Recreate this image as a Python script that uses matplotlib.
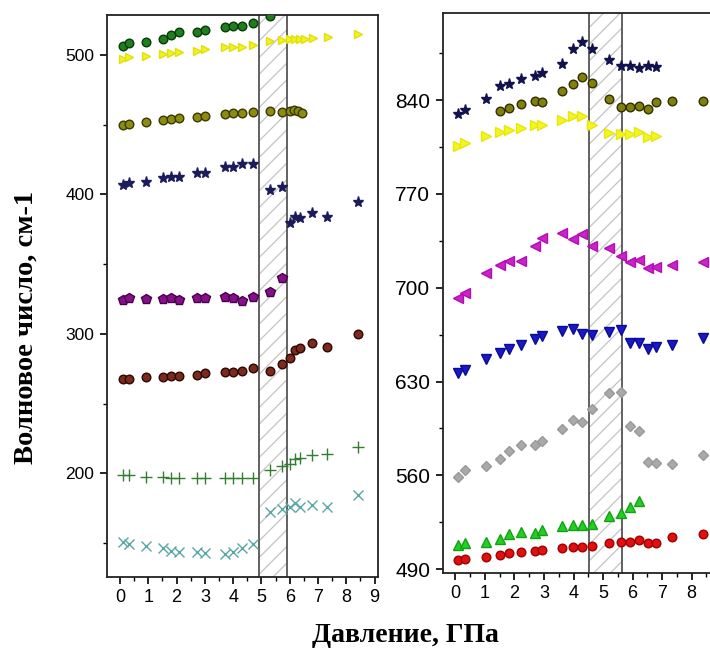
import matplotlib
matplotlib.use("Agg")
import matplotlib.pyplot as plt
from matplotlib.ticker import MultipleLocator

# Pressure points, GPa
p_left = [0.1, 0.33, 0.92, 1.51, 1.8, 2.1, 2.71, 3.0, 3.71, 4.0, 4.3, 4.71,
          5.3, 5.71, 6.0, 6.18, 6.36, 6.77, 7.3, 8.42]
p_left_yellow = [0.1, 0.33, 0.92, 1.51, 1.8, 2.1, 2.71, 3.0, 3.71, 4.0, 4.3, 4.71,
                 5.3, 5.71, 6.0, 6.18, 6.36, 6.54, 6.83, 7.36, 8.42]
p_left_olive = [0.1, 0.33, 0.92, 1.51, 1.8, 2.1, 2.71, 3.0, 3.71, 4.0, 4.3, 4.71,
                5.3, 5.71, 6.0, 6.15, 6.3, 6.45]
p_right = [0.09, 0.32, 1.03, 1.5, 1.82, 2.21, 2.69, 2.92, 3.61, 3.99, 4.29, 4.61,
           5.21, 5.6, 5.91, 6.21, 6.51, 6.81, 7.32, 8.39]

# Low-frequency modes, cm-1
w_green = [506.5, 508.4, 509.1, 511.3, 514.3, 516.3, 516.3, 518.0, 520.3, 521.0,
           521.0, 522.7, 528.2]
w_yellow = [496.9, 498.3, 499.3, 500.7, 501.7, 502.4, 503.1, 504.1, 505.5, 505.5,
            506.0, 507.2, 510.3, 510.8, 511.3, 511.3, 511.3, 511.3, 512.0, 513.1, 515.1]
w_olive = [449.8, 450.5, 451.7, 453.4, 454.1, 454.6, 455.7, 456.5, 457.7, 458.2,
           458.2, 459.3, 459.8, 459.3, 459.5, 460.5, 460.0, 458.5]
w_star = [406.7, 408.4, 409.1, 412.0, 412.7, 412.7, 415.1, 415.1, 419.4, 419.9,
          421.8, 421.8, 403.2, 405.1, 379.3, 384.0, 382.9, 386.9, 384.0, 394.3]
w_purple = [324.2, 325.4, 324.9, 324.9, 325.4, 324.2, 325.4, 325.4, 326.2, 325.4,
            323.7, 326.6, 330.2, 340.2]
w_brown = [267.4, 267.4, 268.8, 269.3, 269.8, 269.8, 270.5, 271.7, 272.4, 272.8,
           273.3, 275.6, 273.3, 278.1, 282.4, 288.4, 290.0, 293.6, 290.8, 299.6]
w_plus = [198.8, 198.8, 197.6, 197.6, 196.9, 196.9, 196.4, 196.4, 196.9, 196.9,
          196.4, 196.9, 202.6, 205.2, 206.9, 210.5, 211.2, 212.8, 213.6, 218.8]
w_cross = [150.9, 149.2, 148.0, 146.1, 144.4, 143.7, 143.2, 142.5, 142.0, 143.2,
           146.1, 149.2, 172.5, 174.2, 176.1, 178.5, 176.1, 177.3, 176.1, 184.5]

# High-frequency modes, cm-1
v_star = [829.2, 832.9, 840.4, 850.8, 852.3, 855.3, 857.7, 859.8, 867.2, 877.7,
          883.1, 877.7, 870.2, 865.7, 865.2, 864.0, 865.2, 864.5]
v_olive = [831.7, 833.7, 837.2, 839.1, 838.7, 846.6, 851.6, 857.3, 852.8, 840.9,
           834.9, 834.6, 835.9, 833.4, 838.4, 839.6, 839.6]
v_yellow = [805.6, 807.6, 813.5, 816.0, 817.5, 819.3, 821.0, 821.7, 824.9, 828.4,
            828.4, 821.7, 815.5, 814.3, 814.3, 816.0, 812.3, 813.5]
v_magenta = [692.5, 696.2, 711.1, 716.6, 719.8, 719.8, 731.0, 737.2, 741.0, 736.5,
             739.7, 731.0, 729.3, 724.0, 719.0, 721.0, 714.9, 715.6, 716.8, 719.3]
v_blue = [636.6, 638.5, 647.0, 651.5, 654.5, 657.0, 662.0, 663.9, 667.6, 669.4,
          665.7, 664.4, 666.9, 668.1, 658.4, 658.4, 654.0, 656.0, 657.0, 662.7]
v_gray = [559.0, 564.0, 566.9, 571.9, 578.1, 582.6, 582.6, 585.6, 594.8, 601.2,
          599.7, 609.7, 621.1, 622.4, 596.7, 593.0, 569.9, 569.4, 568.7, 574.9]
v_green = [507.8, 509.8, 510.3, 512.8, 516.0, 517.7, 517.3, 519.2, 522.2, 522.9,
           522.9, 523.4, 529.6, 531.6, 536.6, 540.8]
v_red = [496.8, 497.9, 499.4, 500.6, 501.8, 502.8, 503.5, 504.3, 506.0, 506.8,
         506.5, 507.2, 509.8, 510.2, 510.5, 511.5, 509.8, 509.3, 514.3, 516.0]

# Transition regions, GPa
band_left = (4.9, 5.9)
band_right = (4.52, 5.63)

tick_font = "Liberation Sans"
label_font = "Liberation Serif"

plt.rcParams["hatch.linewidth"] = 0.9

fig = plt.figure(figsize=(7.1, 6.5), dpi=100)
ax1 = fig.add_axes([107 / 710, 1 - 577 / 650, (378.3 - 107) / 710, (577 - 15) / 650])
ax2 = fig.add_axes([442.7 / 710, 1 - 573 / 650, (730 - 442.7) / 710, (573 - 13) / 650])


def band(ax, lo, hi):
    ax.axvspan(lo, hi, facecolor="white", edgecolor="#c4c4c4", hatch="//",
               linewidth=0, zorder=1)
    for x in (lo, hi):
        ax.axvline(x, color="#555555", linewidth=1.3, zorder=2)


def dots(ax, x, y, marker, face, edge=None, size=6.2, **kw):
    ax.plot(x, y, linestyle="none", marker=marker, markersize=size,
            markerfacecolor=face, markeredgecolor=edge or face,
            markeredgewidth=1.0, zorder=3, **kw)


# left panel
band(ax1, *band_left)
dots(ax1, p_left[:len(w_green)], w_green, "o", "#1f7f1f", "#0a3a0a")
dots(ax1, p_left_yellow, w_yellow, ">", "#f2f21c", "#e0e010")
dots(ax1, p_left_olive, w_olive, "o", "#8c8c12", "#3a3a00")
dots(ax1, p_left, w_star, "*", "#1c1c5c", size=8)
dots(ax1, p_left[:len(w_purple)], w_purple, "p", "#84108a", "#4a004a", size=7)
dots(ax1, p_left, w_brown, "o", "#7a2a1e", "#2e0800")
dots(ax1, p_left, w_plus, "+", "#2f7f2f", size=8)
dots(ax1, p_left, w_cross, "x", "#5aa6a6", size=7.5)

ax1.set_xlim(-0.46, 9.13)
ax1.set_ylim(125.6, 528.7)
ax1.xaxis.set_major_locator(MultipleLocator(1))
ax1.xaxis.set_minor_locator(MultipleLocator(0.5))
ax1.yaxis.set_major_locator(MultipleLocator(100))
ax1.yaxis.set_minor_locator(MultipleLocator(50))
for lab in ax1.get_xticklabels() + ax1.get_yticklabels():
    lab.set_fontfamily(tick_font)
ax1.tick_params(axis="y", labelsize=12.5)
ax1.tick_params(axis="x", labelsize=13)

# right panel
band(ax2, *band_right)
dots(ax2, p_right[:len(v_star)], v_star, "*", "#12124e", size=8)
dots(ax2, p_right[3:3 + len(v_olive)], v_olive, "o", "#80800e", "#303000")
dots(ax2, p_right[:len(v_yellow)], v_yellow, ">", "#f5f51e", "#e6e612", size=6.8)
dots(ax2, p_right, v_magenta, "<", "#cc22cc", "#b010b0", size=6.8)
dots(ax2, p_right, v_blue, "v", "#1818c8", "#0c0c90", size=6.8)
dots(ax2, p_right, v_gray, "D", "#a9a9a9", "#999999", size=5.2)
dots(ax2, p_right[:len(v_green)], v_green, "^", "#22d022", "#14a014", size=6.8)
dots(ax2, p_right, v_red, "o", "#e01010", "#a00000")

ax2.set_xlim(-0.43, 9.3)
ax2.set_ylim(487.2, 904.9)
ax2.xaxis.set_minor_locator(MultipleLocator(0.5))
ax2.set_xticks(range(0, 9))
ax2.set_yticks([490, 560, 630, 700, 770, 840])
ax2.set_yticks([525, 595, 665, 735, 805, 875], minor=True)
for lab in ax2.get_xticklabels() + ax2.get_yticklabels():
    lab.set_fontfamily(tick_font)
ax2.tick_params(axis="y", labelsize=15)
ax2.tick_params(axis="x", labelsize=13)

for ax in (ax1, ax2):
    ax.tick_params(which="major", direction="out", length=5, width=1.2, pad=4)
    ax.tick_params(which="minor", direction="out", length=3, width=1.0)
    for s in ax.spines.values():
        s.set_linewidth(1.3)
        s.set_color("#222222")

fig.text(26 / 710, 1 - 327 / 650, "Волновое число, см-1", rotation=90,
         ha="center", va="center", fontsize=20.5, fontweight="bold",
         family=label_font)
fig.text(405 / 710, 1 - 636 / 650, "Давление, ГПа", ha="center", va="center",
         fontsize=20, fontweight="bold", family=label_font)

fig.savefig("out.png", dpi=100)
